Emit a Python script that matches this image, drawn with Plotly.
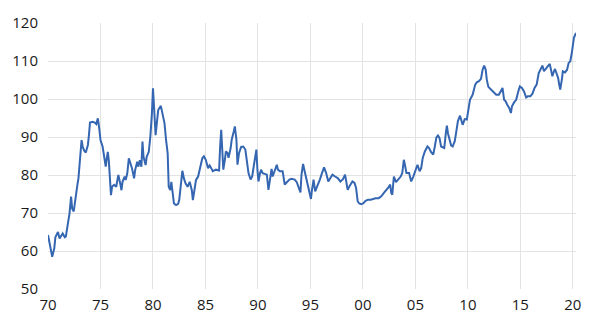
import plotly.graph_objects as go

dates = [
    1970.0, 1970.4, 1970.6, 1970.7, 1970.95, 1971.1, 1971.4, 1971.6, 1971.7, 1971.9,
    1972.05, 1972.2, 1972.3, 1972.45, 1972.6, 1972.8, 1972.9, 1973.0, 1973.2, 1973.3,
    1973.45, 1973.6, 1973.8, 1973.9, 1974.0, 1974.25, 1974.45, 1974.6, 1974.75, 1974.9,
    1975.0, 1975.2, 1975.35, 1975.5, 1975.6, 1975.7, 1975.8, 1976.0, 1976.1, 1976.3,
    1976.5, 1976.6, 1976.7, 1976.85, 1977.0, 1977.1, 1977.3, 1977.4, 1977.55, 1977.7,
    1977.85, 1978.0, 1978.2, 1978.3, 1978.5, 1978.6, 1978.75, 1978.9, 1979.0, 1979.1,
    1979.3, 1979.4, 1979.6, 1979.75, 1979.9, 1980.0, 1980.1, 1980.25, 1980.4, 1980.5,
    1980.75, 1980.9, 1981.1, 1981.25, 1981.4, 1981.5, 1981.65, 1981.75, 1981.9, 1982.0,
    1982.2, 1982.4, 1982.5, 1982.65, 1982.8, 1982.95, 1983.1, 1983.3, 1983.5, 1983.7,
    1983.8, 1984.0, 1984.1, 1984.3, 1984.5, 1984.7,
    1984.85, 1985.03, 1985.25, 1985.4, 1985.55, 1985.7, 1986.0, 1986.3, 1986.4, 1986.5,
    1986.6, 1986.7, 1986.85, 1986.95, 1987.1, 1987.2, 1987.4, 1987.5, 1987.7, 1987.8,
    1987.95, 1988.05, 1988.2, 1988.4, 1988.6, 1988.8, 1988.95, 1989.1, 1989.3, 1989.45,
    1989.6, 1989.75, 1989.85, 1989.95, 1990.05, 1990.2, 1990.3, 1990.45, 1990.65, 1990.85,
    1991.0, 1991.15, 1991.3, 1991.4, 1991.6, 1991.8, 1991.9, 1992.1, 1992.35, 1992.55,
    1992.75, 1993.0, 1993.2, 1993.5, 1993.7, 1993.85, 1994.05, 1994.15, 1994.3, 1994.45,
    1994.65, 1994.85, 1995.05, 1995.15, 1995.3, 1995.45, 1995.65, 1995.9, 1996.1, 1996.3,
    1996.5, 1996.7, 1996.9, 1997.1, 1997.35, 1997.6, 1997.85, 1998.1, 1998.3, 1998.45,
    1998.55, 1998.75, 1999.0, 1999.2, 1999.35, 1999.5, 1999.65, 1999.85, 2000.05, 2000.25,
    2000.5, 2000.75, 2001.0, 2001.2, 2001.5, 2001.75, 2002.0, 2002.25, 2002.45, 2002.6,
    2002.7, 2002.8, 2002.95, 2003.15, 2003.4, 2003.6, 2003.75, 2003.9, 2004.0, 2004.15,
    2004.4, 2004.6, 2004.8, 2005.0, 2005.2, 2005.4, 2005.55, 2005.7, 2005.9, 2006.15,
    2006.3, 2006.5, 2006.7, 2006.85, 2007.0, 2007.15, 2007.3, 2007.45, 2007.6, 2007.75,
    2007.9, 2008.0, 2008.1, 2008.25, 2008.4, 2008.55, 2008.75, 2008.9, 2009.05, 2009.25,
    2009.35, 2009.5, 2009.7, 2009.9, 2010.05, 2010.2, 2010.45, 2010.7, 2010.85, 2011.05,
    2011.25, 2011.4, 2011.55, 2011.7, 2011.8, 2011.95, 2012.2, 2012.45, 2012.7, 2012.95,
    2013.15, 2013.3, 2013.45, 2013.6, 2013.75, 2013.95, 2014.1, 2014.2, 2014.4, 2014.6,
    2014.8, 2014.95, 2015.15, 2015.35, 2015.55, 2015.7, 2015.95, 2016.15, 2016.35, 2016.55,
    2016.75, 2016.95, 2017.1, 2017.25, 2017.45, 2017.6, 2017.8, 2017.9, 2018.05, 2018.2,
    2018.3, 2018.45, 2018.6, 2018.7, 2018.8, 2018.95, 2019.05, 2019.25, 2019.45, 2019.6,
    2019.75, 2019.9, 2020.0, 2020.1, 2020.3,
]

values = [
    64.2, 58.5, 60.7, 63.6, 65.0, 63.3, 64.6, 63.6, 63.8, 66.8,
    69.9, 74.3, 71.2, 70.4, 73.9, 77.4, 79.1, 82.2, 89.2, 87.5,
    86.4, 85.9, 87.9, 90.5, 93.8, 94.0, 93.8, 93.4, 94.9, 91.8,
    89.2, 87.5, 84.4, 82.2, 84.4, 86.1, 83.5, 74.7, 76.9, 77.4,
    76.9, 78.2, 80.0, 78.2, 76.0, 78.2, 79.6, 78.7, 80.4, 84.4,
    83.1, 81.8, 79.1, 81.3, 83.5, 82.2, 83.9, 82.2, 88.8, 84.8,
    82.6, 84.8, 86.1, 90.1, 96.2, 102.8, 98.0, 90.5, 94.5, 97.1,
    98.2, 96.2, 93.6, 89.2, 85.7, 76.9, 76.0, 78.2, 74.3, 72.5,
    72.1, 72.4, 73.4, 76.9, 81.1, 79.1, 77.8, 76.9, 78.2, 76.0,
    73.4, 76.9, 78.7, 79.6, 81.8, 84.4,
    84.9, 84.0, 81.8, 82.5, 81.8, 81.0, 81.4, 81.2, 87.5, 91.9,
    86.7, 81.4, 84.0, 86.2, 85.8, 84.5, 87.1, 89.3, 91.5, 92.8,
    89.3, 82.7, 85.8, 87.4, 87.5, 86.7, 83.6, 80.5, 78.8, 79.6,
    82.3, 85.8, 86.7, 81.4, 78.3, 80.5, 81.4, 80.5, 80.4, 80.1,
    76.1, 79.2, 81.6, 79.6, 81.4, 82.7, 81.4, 81.0, 81.0, 77.5,
    78.1, 78.8, 79.0, 78.8, 78.1, 77.0, 75.4, 80.1, 82.9, 81.0,
    78.3, 75.7, 73.7, 76.1, 78.8, 75.7, 77.0, 78.8, 80.5, 82.0,
    80.5, 78.3, 79.2, 80.1, 79.6, 79.2, 78.3, 78.9, 80.1, 77.9,
    76.1, 77.2, 78.3, 77.9, 76.6, 73.1, 72.5, 72.3, 72.6, 73.2,
    73.5, 73.5, 73.8, 73.9, 73.9, 74.4, 75.3, 76.0, 76.8, 77.5,
    75.3, 74.8, 79.6, 78.1, 78.8, 79.6, 80.5, 84.0, 82.7, 80.5,
    80.5, 78.3, 79.6, 81.4, 82.7, 81.0, 81.8, 84.5, 86.2, 87.5,
    87.1, 86.0, 85.4, 87.5, 89.9, 90.4, 89.7, 87.5, 87.4, 87.1,
    91.0, 93.0, 91.0, 88.9, 87.8, 87.5, 88.9, 91.5, 94.2, 95.6,
    94.4, 93.2, 94.7, 94.6, 97.2, 99.8, 101.1, 103.8, 104.4, 104.7,
    105.3, 107.7, 108.8, 107.7, 105.1, 103.2, 102.5, 101.8, 101.1, 101.1,
    102.0, 102.9, 99.8, 99.4, 98.5, 97.6, 96.3, 98.1, 99.1, 99.8,
    102.0, 103.3, 102.9, 102.0, 100.4, 100.7, 100.7, 101.4, 102.9, 103.8,
    106.8, 108.2, 108.8, 107.3, 108.2, 108.6, 109.2, 107.7, 106.0, 107.3,
    107.9, 106.7, 105.5, 103.8, 102.5, 105.1, 107.3, 107.0, 107.7, 109.5,
    109.9, 112.1, 114.3, 116.1, 117.4,
]

x_tickvals = [1970, 1975, 1980, 1985, 1990, 1995, 2000, 2005, 2010, 2015, 2020]
x_ticktext = ["70", "75", "80", "85", "90", "95", "00", "05", "10", "15", "20"]
y_tickvals = [50, 60, 70, 80, 90, 100, 110, 120]

grid_color = "#e3e3e3"

fig = go.Figure()
fig.add_trace(go.Scatter(
    x=dates, y=values, mode="lines",
    line=dict(color="#3566b1", width=2),
    hoverinfo="skip", showlegend=False,
))

fig.update_layout(
    width=593, height=330,
    margin=dict(l=43, r=14, t=23, b=41),
    paper_bgcolor="white", plot_bgcolor="white",
    font=dict(family="Open Sans, Noto Sans, sans-serif", size=15, color="#1a1a1a"),
    xaxis=dict(
        range=[1970, 2020.3],
        tickvals=x_tickvals, ticktext=x_ticktext,
        showgrid=False, zeroline=False, showline=False,
        ticks="outside", ticklen=2, tickcolor="rgba(0,0,0,0)",
        minor=dict(tickvals=x_tickvals[1:], showgrid=True, gridcolor=grid_color, gridwidth=1, ticks=""),
    ),
    yaxis=dict(
        range=[50, 120],
        tickvals=y_tickvals,
        showgrid=False, zeroline=False, showline=False,
        ticks="outside", ticklen=6, tickcolor="rgba(0,0,0,0)",
        minor=dict(tickvals=y_tickvals[1:-1], showgrid=True, gridcolor=grid_color, gridwidth=1, ticks=""),
    ),
)

fig.write_html("out.html")
